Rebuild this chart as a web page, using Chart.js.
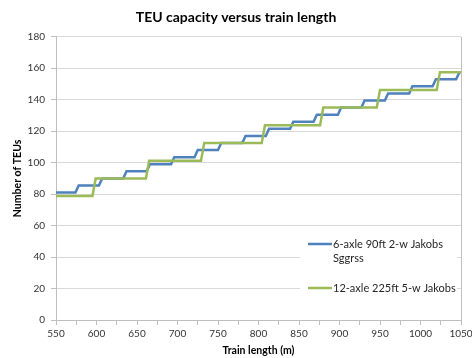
<!DOCTYPE html>
<html>
<head>
<meta charset="utf-8">
<script src="https://cdn.jsdelivr.net/npm/chart.js@4.4.1/dist/chart.umd.min.js"></script>
<style>
  html, body { margin: 0; padding: 0; background: #fff; }
  #wrap { width: 472px; height: 358px; }
</style>
</head>
<body>
<div id="wrap"><canvas id="chart"></canvas></div>
<script>
// Train length (m) where each series steps up, and TEU level on each step
const seriesNames = ['6-axle 90ft 2-w Jakobs Sggrss', '12-axle 225ft 5-w Jakobs'];
const blueRise = [576, 605, 635, 664, 694, 723, 752, 782, 811, 841, 870, 900, 929, 958, 988, 1017, 1046];
const blueTEUs = [81, 85.5, 90, 94.5, 99, 103.5, 108, 112.5, 117, 121.5, 126, 130.5, 135, 139.5, 144, 148.5, 153, 157.5];
const greenRise = [597, 663, 731, 806, 878, 948, 1022];
const greenTEUs = [78.75, 90, 101.25, 112.5, 123.75, 135, 146.25, 157.5];

const xMin = 550, xMax = 1050;
const FONT = 'Lato, "Liberation Sans", sans-serif';

// turn rise positions + levels into the corner points of a step line
function stepPoints(rise, levels) {
    const pts = [{ x: xMin, y: levels[0] }];
    rise.forEach((r, i) => {
        pts.push({ x: r - 2, y: levels[i] });
        pts.push({ x: r + 2, y: levels[i + 1] });
    });
    pts.push({ x: xMax, y: levels[levels.length - 1] });
    return pts;
}

const colors = { blue: '#4F81BD', green: '#9BBB59' };

// legend inside the plot, with wrapped first label
const boxLegend = {
    id: 'boxLegend',
    afterDraw(chart) {
        const ctx = chart.ctx;
        ctx.save();
        ctx.fillStyle = '#fff';
        ctx.fillRect(300, 230, 157, 70);
        ctx.font = '11px ' + FONT;
        ctx.fillStyle = '#262626';
        ctx.textBaseline = 'middle';
        const items = [
            { color: colors.blue, y: 244, lines: ['6-axle 90ft 2-w Jakobs', 'Sggrss'] },
            { color: colors.green, y: 288, lines: [seriesNames[1]] }
        ];
        items.forEach(it => {
            ctx.strokeStyle = it.color;
            ctx.lineWidth = 2.5;
            ctx.beginPath();
            ctx.moveTo(308, it.y);
            ctx.lineTo(332, it.y);
            ctx.stroke();
            it.lines.forEach((t, k) => ctx.fillText(t, 333, it.y + k * 14));
        });
        ctx.restore();
    }
};

new Chart(document.getElementById('chart'), {
    type: 'scatter',
    data: {
        datasets: [
            {
                label: seriesNames[0],
                data: stepPoints(blueRise, blueTEUs),
                showLine: true,
                borderColor: colors.blue,
                borderWidth: 2.5,
                pointRadius: 0,
                order: 2
            },
            {
                label: seriesNames[1],
                data: stepPoints(greenRise, greenTEUs),
                showLine: true,
                borderColor: colors.green,
                borderWidth: 2.5,
                pointRadius: 0,
                order: 1
            }
        ]
    },
    options: {
        responsive: true,
        maintainAspectRatio: false,
        animation: false,
        layout: { padding: { left: 0, right: 0, top: 0, bottom: 0 } },
        plugins: {
            legend: { display: false },
            tooltip: { enabled: false },
            title: {
                display: true,
                text: 'TEU capacity versus train length',
                color: '#000',
                font: { family: FONT, size: 14, weight: 'bold', lineHeight: 1.2 },
                padding: { top: 9, bottom: 11 }
            }
        },
        scales: {
            x: {
                type: 'linear',
                min: xMin,
                max: xMax,
                afterFit(scale) {
                    scale.height = 38;
                    scale.paddingRight = 11;
                },
                border: { color: '#BFBFBF' },
                grid: {
                    drawOnChartArea: true,
                    color: c => (c.tick && c.tick.value === xMax) ? '#BFBFBF' : 'rgba(0,0,0,0)',
                    tickColor: '#BFBFBF',
                    tickLength: 5
                },
                ticks: {
                    stepSize: 25,
                    autoSkip: false,
                    maxRotation: 0,
                    padding: 3,
                    color: '#333',
                    font: { family: FONT, size: 10 },
                    callback: v => (v % 50 === 0 ? v : '')
                },
                title: {
                    display: true,
                    text: 'Train length (m)',
                    color: '#000',
                    font: { family: FONT, size: 10.5, weight: 'bold' },
                    padding: { top: 0, bottom: 1 }
                }
            },
            y: {
                min: 0,
                max: 180,
                afterFit(scale) { scale.width = 56; },
                border: { color: '#BFBFBF' },
                grid: {
                    color: '#D9D9D9',
                    tickColor: '#BFBFBF',
                    tickLength: 5
                },
                ticks: {
                    stepSize: 20,
                    padding: 6,
                    color: '#333',
                    font: { family: FONT, size: 10 }
                },
                title: {
                    display: true,
                    text: 'Number of TEUs',
                    color: '#000',
                    font: { family: FONT, size: 10.5, weight: 'bold' },
                    padding: { top: 11, bottom: 0 }
                }
            }
        }
    },
    plugins: [boxLegend]
});
</script>
</body>
</html>
